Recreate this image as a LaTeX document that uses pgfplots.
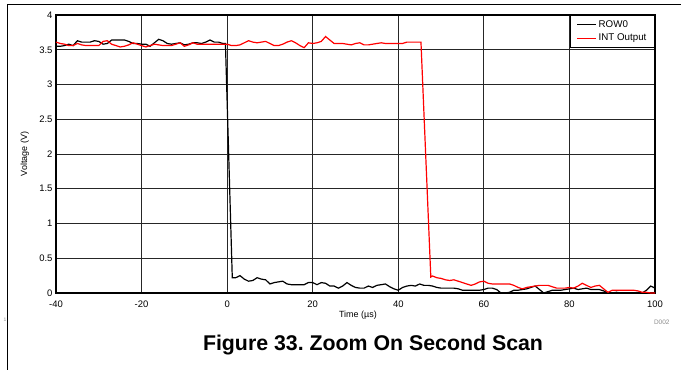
\documentclass[border=0pt]{standalone}
\usepackage{fontspec}
\setmainfont{Liberation Sans}
\usepackage{pgfplots}
\pgfplotsset{compat=1.18}
\begin{document}
\frenchspacing
\begin{tikzpicture}[x=1bp,y=1bp]
\useasboundingbox (-56,-77) rectangle (625,293);
\begin{axis}[
  name=ax, at={(0,0)}, anchor=south west,
  scale only axis, width=599bp, height=278bp,
  xmin=-40, xmax=100, ymin=0, ymax=4,
  xtick={-40,-20,0,20,40,60,80,100},
  ytick={0,0.5,1,1.5,2,2.5,3,3.5,4},
  /pgf/number format/assume math mode=true,
  /pgf/number format/fixed,
  ticklabel style={font=\fontsize{9.5}{10}\selectfont},
  xticklabel style={yshift=-4bp},
  major tick length=0pt,
  grid=major,
  major grid style={black!85, line width=0.8bp},
  axis line style={line width=1.4bp},
  xlabel={Time (µs)}, ylabel={Voltage (V)},
  xlabel style={font=\fontsize{9}{10}\selectfont, at={(axis description cs:0.504,-0.081)}, anchor=center},
  ylabel style={font=\fontsize{9}{10}\selectfont, at={(axis description cs:-0.052,0.5)}, anchor=center, rotate=0},
  legend style={at={(rel axis cs:1,1)}, anchor=north east, draw=black, line width=1.2bp,
    font=\fontsize{9.8}{11}\selectfont, inner xsep=6bp, inner ysep=3bp, row sep=1.2bp},
  legend cell align=left,
  legend image code/.code={\draw[#1, line width=1.2bp] (0bp,0bp) -- (19bp,0bp);},
  clip=false,
]
\addplot[draw=black, line width=1.2bp] coordinates {
(-40,3.55)(-39,3.55)(-38,3.56)(-37,3.58)(-36,3.56)(-35,3.63)(-34,3.61)(-33,3.61)(-32,3.61)(-31,3.63)
(-30,3.62)(-29,3.58)(-28,3.59)(-27,3.64)(-26,3.64)(-25,3.64)(-24,3.64)(-23,3.62)(-22,3.59)(-21,3.59)
(-20,3.58)(-19,3.58)(-18,3.55)(-17,3.60)(-16,3.65)(-15,3.63)(-14,3.59)(-13,3.58)(-12,3.59)(-11,3.60)
(-10,3.57)(-9,3.58)(-8,3.60)(-7,3.60)(-6,3.59)(-5,3.61)(-4,3.64)(-3,3.61)(-2,3.61)(-1,3.59)(-0.4,3.59)
(1.2,0.22)(2,0.22)(3,0.25)(4,0.20)(5,0.17)(6,0.18)(7,0.22)(8,0.20)(9,0.19)(10,0.13)
(11,0.15)(12,0.16)(13,0.17)(14,0.13)(15,0.12)(16,0.12)(17,0.12)(18,0.12)(19,0.15)(20,0.15)
(21,0.12)(22,0.15)(23,0.14)(24,0.10)(25,0.10)(26,0.07)(27,0.10)(28,0.15)(29,0.11)(30,0.08)
(31,0.07)(32,0.07)(33,0.10)(34,0.08)(35,0.11)(36,0.12)(37,0.13)(38,0.09)(39,0.06)(40,0.04)
(41,0.08)(42,0.10)(43,0.11)(44,0.10)(45,0.13)(46,0.11)(47,0.11)(48,0.10)(49,0.08)(50,0.07)
(51,0.07)(52,0.07)(53,0.07)(54,0.06)(55,0.04)(56,0.04)(57,0.04)(58,0.04)(59,0.04)(60,0.05)
(61,0.07)(62,0.07)(63,0.05)(64,0.00)(65,0.00)(66,0.01)(67,0.04)(68,0.04)(69,0.05)(70,0.06)
(71,0.08)(72,0.10)(73,0.05)(74,0.00)(75,0.02)(76,0.04)(77,0.04)(78,0.04)(79,0.05)(80,0.06)
(81,0.07)(82,0.05)(83,0.06)(84,0.07)(85,0.05)(86,0.05)(87,0.05)(88,0.03)(89,0.00)(90,0.00)
(91,0.01)(92,0.00)(93,0.00)(94,0.00)(95,0.00)(96,0.00)(97,0.00)(98,0.04)(99,0.10)(100,0.07)
};
\addlegendentry{ROW0}
\addplot[draw=red, line width=1.2bp] coordinates {
(-40,3.61)(-39,3.59)(-38,3.58)(-37,3.56)(-36,3.56)(-35,3.59)(-34,3.57)(-33,3.56)(-32,3.56)(-31,3.56)
(-30,3.56)(-29,3.62)(-28,3.63)(-27,3.58)(-26,3.56)(-25,3.54)(-24,3.55)(-23,3.57)(-22,3.60)(-21,3.58)
(-20,3.56)(-19,3.54)(-18,3.56)(-17,3.58)(-16,3.57)(-15,3.56)(-14,3.56)(-13,3.56)(-12,3.58)(-11,3.60)
(-10,3.55)(-9,3.57)(-8,3.60)(-7,3.58)(-6,3.58)(-5,3.58)(-4,3.58)(-3,3.58)(-2,3.58)(-1,3.58)
(0,3.58)(1,3.56)(2,3.56)(3,3.57)(4,3.60)(5,3.63)(6,3.61)(7,3.60)(8,3.61)(9,3.62)
(10,3.59)(11,3.56)(12,3.56)(13,3.58)(14,3.61)(15,3.63)(16,3.60)(17,3.56)(18,3.53)(19,3.60)
(20,3.59)(21,3.60)(22,3.62)(23,3.69)(24,3.64)(25,3.59)(26,3.59)(27,3.59)(28,3.58)(29,3.57)
(30,3.59)(31,3.60)(32,3.57)(33,3.57)(34,3.58)(35,3.59)(36,3.60)(37,3.59)(38,3.59)(39,3.59)
(40,3.59)(41,3.59)(42,3.61)(43,3.61)(44,3.61)(45,3.61)(45.3,3.61)
(47.6,0.23)(48,0.245)(49,0.22)(50,0.21)(51,0.19)(52,0.18)(53,0.19)(54,0.17)(55,0.15)(56,0.13)
(57,0.11)(58,0.13)(59,0.16)(60,0.17)(61,0.14)(62,0.13)(63,0.13)(64,0.13)(65,0.13)(66,0.13)
(67,0.11)(68,0.08)(69,0.06)(70,0.08)(71,0.09)(72,0.10)(73,0.11)(74,0.11)(75,0.11)(76,0.09)
(77,0.07)(78,0.07)(79,0.07)(80,0.08)(81,0.07)(82,0.10)(83,0.14)(84,0.11)(85,0.08)(86,0.10)
(87,0.11)(88,0.06)(89,0.01)(90,0.04)(91,0.04)(92,0.04)(93,0.04)(94,0.04)(95,0.04)(96,0.03)
(97,0.01)(98,0.01)(99,0.00)(100,0.00)
};
\addlegendentry{INT Output}
\end{axis}
% page frame
\draw[line width=1bp] (-48,289) -- (625,289);
\draw[line width=1bp] (-48,289) -- (-48,-77);
\node[font=\fontsize{5}{6}\selectfont, text=black!45] at (-51,-27) {1};
\node[font=\fontsize{6.5}{7}\selectfont, text=black!45, anchor=east] at (617,-29) {D002};
\node[font=\fontsize{21.4}{23}\bfseries\selectfont] at (317,-52) {Figure 33. Zoom On Second Scan};
\end{tikzpicture}
\end{document}
